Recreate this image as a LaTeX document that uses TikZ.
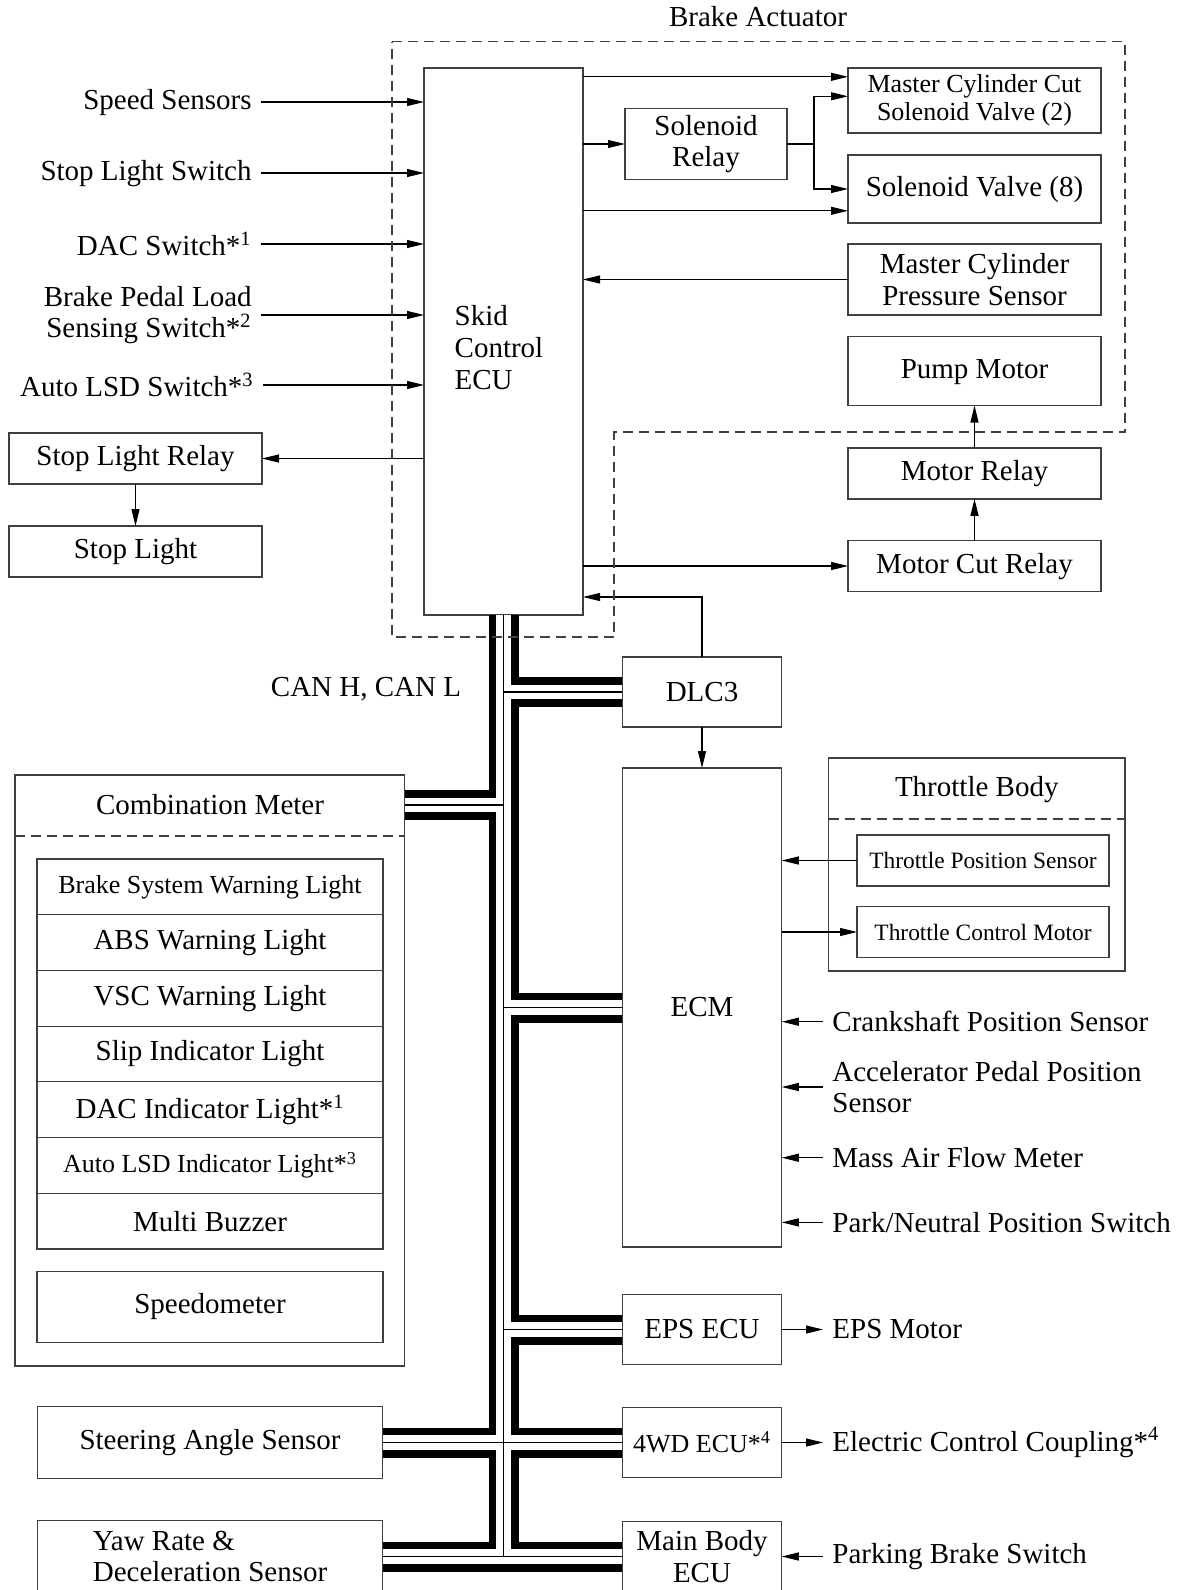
\documentclass[tikz,border=0pt]{standalone}
\usepackage{fontspec}
\setmainfont{Liberation Serif}
\usetikzlibrary{arrows.meta, positioning}

\begin{document}
\begin{tikzpicture}[
    x=0.5pt, y=-0.5pt,
    font=\fontsize{14.5}{15.8}\selectfont,
    box/.style={rectangle, draw=black!75, line width=0.6pt, fill=white,
                minimum width=126.5pt, minimum height=25.5pt, inner sep=2pt,
                outer sep=0pt, align=center},
    ecubox/.style={box, minimum width=79.75pt, minimum height=35pt},
    lamp/.style={box, minimum width=173pt, minimum height=27.85pt},
    smalltxt/.style={font=\fontsize{13}{14.2}\selectfont},
    tinytxt/.style={font=\fontsize{11.7}{13}\selectfont},
    lowtxt/.style={text height=0.95em, text depth=0.22em},
    lbl/.style={inner sep=4.5pt},
    arrow/.style={-{Triangle[length=8.5pt,width=4pt]}, line width=0.55pt},
    frame/.style={dash pattern=on 5pt off 3pt, line width=0.6pt, draw=black!75},
    canbus/.style={line width=0.7pt, preaction={draw, line width=15pt},
                   preaction={draw, white, line width=7.4pt}},
]
\path[use as bounding box] (0,0) rectangle (1191,1590);
\clip (0,0) rectangle (1191,1590);

% brake actuator
\node (bact) at (758,17) {Brake Actuator};
\node[box, minimum width=79.5pt, minimum height=273.5pt] (ecu) at (503.5,341.5) {};
\node[align=left, anchor=west] (ecutxt) at ([xshift=11.8pt, yshift=-3pt]ecu.west) {Skid\\Control\\ECU};
\node[box, smalltxt, minimum height=32.5pt] (mccv) at (974.5,100.5) {Master Cylinder Cut\\Solenoid Valve (2)};
\node[box, lowtxt, minimum height=34pt] (sv) at (974.5,189) {Solenoid Valve (8)};
\node[box, minimum height=35.5pt] (mcps) at (974.5,279.5) {Master Cylinder\\Pressure Sensor};
\node[box, lowtxt, minimum height=34.5pt] (pump) at (974.5,371) {Pump Motor};
\node[box, lowtxt] (mrly) at (974.5,473.4) {Motor Relay};
\node[box, lowtxt] (mcr)  at (974.5,566)   {Motor Cut Relay};
\node[box, minimum width=81pt, minimum height=35.5pt] (srly) at (706,144) {Solenoid\\Relay};

\node[box] (slr) at (135.5,458.5) {Stop Light Relay};
\node[box] (sl)  at (135.5,551.5) {Stop Light};

% inputs to skid control ECU
\node[lbl, lowtxt, anchor=east] (spd) at (261,102) {Speed Sensors};
\node[lbl, lowtxt, anchor=east] (sls) at (261,173) {Stop Light Switch};
\node[lbl, anchor=east] (dac) at (261,244) {DAC Switch*\textsuperscript{1}};
\node[lbl, anchor=east, align=right] (bpl) at (261,315) {Brake Pedal Load\\Sensing Switch*\textsuperscript{2}};
\node[lbl, anchor=east] (lsd) at (263,385) {Auto LSD Switch*\textsuperscript{3}};
\foreach \n in {spd,sls,dac,bpl,lsd}
    \draw[arrow] (\n.east) -- (\n.east -| ecu.west);

\coordinate (mccA) at ([yshift=11.85pt]mccv.west);
\coordinate (mccB) at ([yshift=2.1pt]mccv.west);
\coordinate (svB)  at ([yshift=-10.9pt]sv.west);
\coordinate (srlyJ) at ([xshift=13.5pt]srly.east);

\draw[arrow] (ecu.west |- slr.east) -- (slr.east);
\draw[arrow] (slr.south) -- (sl.north);
\draw[arrow] (ecu.east |- mccA) -- (mccA);
\draw[arrow] (ecu.east |- srly.west) -- (srly.west);
\draw[arrow] (ecu.east |- svB) -- (svB);
\draw[arrow] (srly.east) -- (srlyJ) |- (mccB);
\draw[arrow] (srlyJ) |- (sv.west);
\draw[arrow] (mcps.west) -- (mcps.west -| ecu.east);
\draw[arrow] (mrly.north) -- (pump.south);
\draw[arrow] (mcr.north) -- (mrly.south);
\draw[arrow] (ecu.east |- mcr.west) -- (mcr.west);

% engine side
\node[ecubox] (dlc) at (702,692) {DLC3};
\node[ecubox, minimum height=239.5pt] (ecm) at (702,1007.5) {ECM};
\coordinate (dlcA) at ([yshift=9pt]ecu.south east);
\draw[arrow] (dlc.north) |- (dlcA);
\draw[arrow] (dlc.south) -- (ecm.north);

\node[box, fill=none, minimum width=148.25pt, minimum height=106.5pt] (tb) at (976.75,864.5) {};
\node (tbtitle) at (976.75,790) {Throttle Body};
\draw[frame] ([yshift=-30.5pt]tb.north west) -- ([yshift=-30.5pt]tb.north east);
\node[box, tinytxt, minimum width=126pt] (tps) at (983,860.5) {Throttle Position Sensor};
\node[box, tinytxt, minimum width=126pt] (tcm) at (983,932)   {Throttle Control Motor};
\draw[arrow] (tps.west) -- (tps.west -| ecm.east);
\draw[arrow] (ecm.east |- tcm.west) -- (tcm.west);

\node[lbl, anchor=west] (ckp) at (823,1021.7) {Crankshaft Position Sensor};
\node[lbl, anchor=west, align=left] (app) at (823,1087) {Accelerator Pedal Position\\Sensor};
\node[lbl, anchor=west] (maf) at (823,1157.7) {Mass Air Flow Meter};
\node[lbl, anchor=west] (pnp) at (823,1222.4) {Park/Neutral Position Switch};
\foreach \n in {ckp,app,maf,pnp}
    \draw[arrow] (\n.west) -- (\n.west -| ecm.east);

\node[ecubox] (eps) at (702,1329.5) {EPS ECU};
\node[ecubox, smalltxt] (fwd) at (702,1442.5) {4WD ECU*\textsuperscript{4}};
\node[ecubox] (mbecu) at (702,1556.5) {Main Body\\ECU};
\node[lbl, anchor=west] (epsm) at (823,1329.5) {EPS Motor};
\node[lbl, anchor=west] (ecc)  at (823,1442.5) {Electric Control Coupling*\textsuperscript{4}};
\node[lbl, anchor=west] (pkb)  at (823,1556.5) {Parking Brake Switch};
\draw[arrow] (eps.east) -- (epsm.west);
\draw[arrow] (fwd.east) -- (ecc.west);
\draw[arrow] (pkb.west) -- (mbecu.east);

% combination meter and sensors
\node[box, fill=none, minimum width=194.75pt, minimum height=295.5pt] (cmeter) at (209.75,1070.5) {};
\node (cmtitle) at (210,805) {Combination Meter};
\draw[frame] ([yshift=-30.5pt]cmeter.north west) -- ([yshift=-30.5pt]cmeter.north east);
\node[lamp, smalltxt] (lamp1) at (210,886.9)  {Brake System Warning Light};
\node[lamp] (lamp2) at (210,942.6)  {ABS Warning Light};
\node[lamp] (lamp3) at (210,998.3)  {VSC Warning Light};
\node[lamp] (lamp4) at (210,1054)   {Slip Indicator Light};
\node[lamp] (lamp5) at (210,1109.7) {DAC Indicator Light*\textsuperscript{1}};
\node[lamp, smalltxt] (lamp6) at (210,1165.4) {Auto LSD Indicator Light*\textsuperscript{3}};
\node[lamp] (lamp7) at (210,1221.1) {Multi Buzzer};
\node[lamp, minimum height=35.3pt] (speedo) at (210,1307) {Speedometer};
\node[box, minimum width=172.75pt, minimum height=35.8pt] (sas) at (210,1442.5) {Steering Angle Sensor};
\node[box, minimum width=172.75pt, minimum height=35.8pt, align=left] (yaw) at (210,1556.5) {Yaw Rate \&\\Deceleration Sensor};

% CAN bus
\node (canlbl) at (366,689) {CAN H, CAN L};
\draw[canbus] (ecu.south) -- (ecu.south |- mbecu.west)
    (ecu.south |- dlc.west) -- (dlc.west)
    (ecu.south |- cmtitle) -- (cmtitle -| cmeter.east)
    (ecu.south |- ecm.west) -- (ecm.west)
    (ecu.south |- eps.west) -- (eps.west)
    (sas.east) -- (fwd.west)
    (yaw.east) -- (mbecu.west);

\draw[frame] (392,41.5) -- (1125,41.5) -- (1125,432) -- (614,432) -- (614,637) -- (392,637) -- cycle;
\end{tikzpicture}
\end{document}
